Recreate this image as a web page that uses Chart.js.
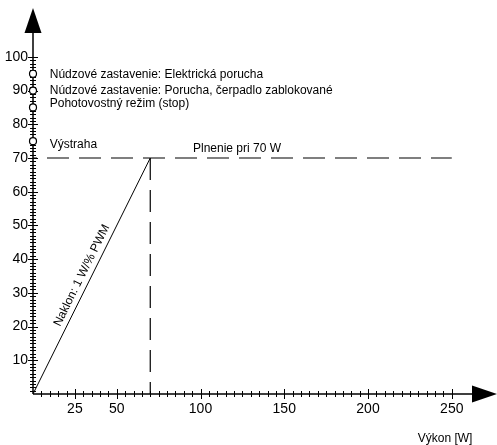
<!DOCTYPE html>
<html>
<head>
<meta charset="utf-8">
<script src="https://cdn.jsdelivr.net/npm/chart.js@4.4.1/dist/chart.umd.min.js"></script>
<style>
  html, body { margin: 0; padding: 0; background: #fff; }
  #wrap { width: 497px; height: 445px; }
</style>
</head>
<body>
<div id="wrap"><canvas id="chart"></canvas></div>
<script>
// data
const rampX = [0, 70];
const rampY = [0, 70];
const limitX = [0, 250];
const limitY = [70, 70];
const capX = [70, 70];
const capY = [70, 0];
const stateLevels = [75, 85, 90, 95];
const xTickValues = [25, 50, 100, 150, 200, 250];
const yTickValues = [10, 20, 30, 40, 50, 60, 70, 80, 90, 100];
const stateLabels = [
  "Núdzové zastavenie: Elektrická porucha",
  "Núdzové zastavenie: Porucha, čerpadlo zablokované",
  "Pohotovostný režim (stop)",
  "Výstraha"
];
const limitLabel = "Plnenie pri 70 W";
const slopeLabel = "Naklon: 1 W/% PWM";
const xTitle = "Výkon [W]";

// where the texts sit (data units)
const stateLabelPos = [[10, 94.6], [10, 90], [10, 86], [10, 74.1]];
const limitLabelPos = [95.5, 72.9];
const slopeLabelAt = 34;

const toPoints = (xs, ys) => xs.map((x, i) => ({ x: x, y: ys[i] }));

Chart.defaults.font.family = "'Liberation Sans', Arial, sans-serif";
Chart.defaults.color = "#000";

const textFont = "12px 'Liberation Sans', Arial, sans-serif";

const axesPlugin = {
  id: "axes",
  beforeDatasetsDraw(chart) {
    const ctx = chart.ctx;
    const xs = chart.scales.x, ys = chart.scales.y;
    const x0 = xs.getPixelForValue(0), y0 = ys.getPixelForValue(0);
    const area = chart.chartArea;
    ctx.save();
    ctx.strokeStyle = "#000";
    ctx.fillStyle = "#000";
    ctx.lineWidth = 1.5;
    ctx.beginPath();
    ctx.moveTo(x0, y0);
    ctx.lineTo(area.right - 20, y0);
    ctx.moveTo(x0, y0);
    ctx.lineTo(x0, area.top + 20);
    ctx.stroke();
    // arrows
    ctx.beginPath();
    ctx.moveTo(area.right, y0);
    ctx.lineTo(area.right - 25, y0 - 8.5);
    ctx.lineTo(area.right - 25, y0 + 8.5);
    ctx.closePath();
    ctx.fill();
    ctx.beginPath();
    ctx.moveTo(x0, area.top);
    ctx.lineTo(x0 - 8.5, area.top + 25);
    ctx.lineTo(x0 + 8.5, area.top + 25);
    ctx.closePath();
    ctx.fill();
    // tick marks
    ctx.lineWidth = 1;
    ctx.beginPath();
    for (let v = 5; v <= 250; v += 5) {
      const p = Math.round(xs.getPixelForValue(v)) + 0.5;
      const h = xTickValues.includes(v) ? 5 : 3;
      ctx.moveTo(p, y0 - h);
      ctx.lineTo(p, y0 + h);
    }
    for (let v = 1; v <= 100; v += 1) {
      const p = Math.round(ys.getPixelForValue(v)) + 0.5;
      const h = yTickValues.includes(v) ? 5 : 3;
      ctx.moveTo(x0 - h, p);
      ctx.lineTo(x0 + h, p);
    }
    ctx.stroke();
    ctx.restore();
  },
  afterDatasetsDraw(chart) {
    const ctx = chart.ctx;
    const xs = chart.scales.x, ys = chart.scales.y;
    ctx.save();
    ctx.fillStyle = "#000";
    ctx.textBaseline = "middle";
    ctx.textAlign = "left";
    ctx.font = textFont;
    stateLabels.forEach((t, i) => {
      ctx.fillText(t, xs.getPixelForValue(stateLabelPos[i][0]), ys.getPixelForValue(stateLabelPos[i][1]));
    });
    ctx.fillText(limitLabel, xs.getPixelForValue(limitLabelPos[0]), ys.getPixelForValue(limitLabelPos[1]));
    // slope label along the ramp
    const px = xs.getPixelForValue(slopeLabelAt), py = ys.getPixelForValue(slopeLabelAt);
    const ex = xs.getPixelForValue(rampX[1]) - xs.getPixelForValue(rampX[0]);
    const ey = ys.getPixelForValue(rampY[1]) - ys.getPixelForValue(rampY[0]);
    const ang = Math.atan2(ey, ex);
    ctx.translate(px, py);
    ctx.rotate(ang);
    ctx.textAlign = "center";
    ctx.textBaseline = "bottom";
    ctx.fillText(slopeLabel, 0, -3);
    ctx.restore();
    // axis title
    ctx.save();
    ctx.font = textFont;
    ctx.fillStyle = "#000";
    ctx.textAlign = "center";
    ctx.textBaseline = "middle";
    ctx.fillText(xTitle, xs.getPixelForValue(246), chart.chartArea.bottom + 45);
    ctx.restore();
  }
};

new Chart(document.getElementById("chart"), {
  type: "scatter",
  data: {
    datasets: [
      {
        data: toPoints(rampX, rampY),
        showLine: true,
        borderColor: "#000",
        borderWidth: 1,
        pointRadius: 0
      },
      {
        data: toPoints(limitX, limitY),
        showLine: true,
        borderColor: "#000",
        borderWidth: 1.2,
        borderDash: [22, 10],
        borderDashOffset: 18,
        pointRadius: 0
      },
      {
        data: toPoints(capX, capY),
        showLine: true,
        borderColor: "#000",
        borderWidth: 1.2,
        borderDash: [22, 10],
        pointRadius: 0
      },
      {
        data: stateLevels.map(v => ({ x: 0, y: v })),
        showLine: false,
        pointRadius: 3.5,
        pointBackgroundColor: "#fff",
        pointBorderColor: "#000",
        pointBorderWidth: 1.2,
        clip: false
      }
    ]
  },
  options: {
    responsive: true,
    maintainAspectRatio: false,
    animation: false,
    layout: { autoPadding: false, padding: { top: 8, right: 0, left: 0, bottom: 0 } },
    plugins: {
      legend: { display: false },
      tooltip: { enabled: false }
    },
    scales: {
      x: {
        type: "linear",
        min: 0,
        max: 277,
        grid: { display: false, drawTicks: false },
        border: { display: false },
        ticks: { font: { size: 14 }, color: "#000", padding: 7, maxRotation: 0, autoSkip: false },
        afterBuildTicks: (s) => { s.ticks = xTickValues.map(v => ({ value: v })); },
        afterFit: (s) => { s.height = 51; s.paddingLeft = 0; s.paddingRight = 0; }
      },
      y: {
        type: "linear",
        min: 0,
        max: 114.5,
        grid: { display: false, drawTicks: false },
        border: { display: false },
        ticks: { font: { size: 14 }, color: "#000", padding: 5, autoSkip: false },
        afterBuildTicks: (s) => { s.ticks = yTickValues.map(v => ({ value: v })); },
        afterFit: (s) => { s.width = 33; s.paddingTop = 0; s.paddingBottom = 0; }
      }
    }
  },
  plugins: [axesPlugin]
});
</script>
</body>
</html>
